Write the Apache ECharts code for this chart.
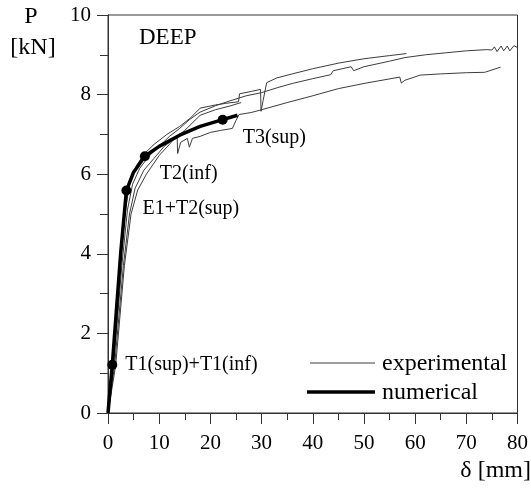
<!DOCTYPE html>
<html>
<head>
<meta charset="utf-8">
<script src="https://cdn.jsdelivr.net/npm/echarts@6/dist/echarts.min.js"></script>
<style>html,body{margin:0;padding:0;background:#fff}#c{width:531px;height:495px}</style>
</head>
<body>
<div id="c"></div>
<script>
// ---- data (δ [mm], P [kN]) ----
var xTicks = [0, 10, 20, 30, 40, 50, 60, 70, 80];
var yTicks = [0, 2, 4, 6, 8, 10];

var expA = [[0,0],[0.9,1.2],[2.4,3.7],[3.3,5.0],[4.2,5.75],[5.5,6.2],[7,6.5],[9,6.75],[11.5,7.0],[14,7.2],[16,7.4],[18,7.66],[21,7.74],[23,7.78],[25.5,7.82],[25.7,8.02],[28,8.08],[29.8,8.13],[29.9,7.58],[30.3,7.85],[31,8.3],[33,8.42],[36,8.52],[40,8.65],[45,8.79],[50,8.9],[55,8.98],[58.3,9.03]];
var expB = [[0,0],[1.1,1.2],[2.7,3.7],[3.8,5.1],[4.8,5.75],[6.2,6.15],[8,6.45],[10,6.7],[12,6.95],[14,7.15],[16,7.38],[18,7.56],[21,7.72],[24,7.85],[27,7.97],[30,8.05],[33,8.17],[36,8.28],[40,8.4],[43.5,8.5],[44,8.6],[47.5,8.7],[48,8.6],[50,8.7],[55,8.84],[58,8.93],[62,9.0],[66,9.05],[70,9.1],[74,9.13],[75,9.12],[75.5,9.2],[76,9.08],[76.8,9.22],[77.3,9.1],[78,9.22],[78.5,9.1],[79.3,9.23],[80,9.18]];
var expC = [[0,0],[1.5,1.2],[3.2,3.7],[4.5,5.0],[5.8,5.6],[7.5,6.0],[10,6.47],[12,6.75],[13.5,6.98],[13.6,6.52],[14.2,6.8],[15.5,6.9],[15.9,6.68],[16.5,6.9],[18,6.95],[20,7.05],[22,7.1],[24.3,7.15],[25,7.35],[25.6,7.5],[28,7.55],[30,7.62],[35,7.8],[40,7.97],[45,8.15],[50,8.28],[57,8.44],[57.3,8.29],[58,8.36],[61,8.49],[65,8.52],[70,8.55],[73.6,8.56],[76.7,8.69]];
var expD = [[0,0],[1.3,1.2],[3,3.7],[4.2,5.0],[5.3,5.65],[7,6.1],[9,6.4],[11,6.7],[13,6.9],[15,7.1],[18,7.48],[21,7.62],[24,7.72],[26,7.8]];
var numerical = [[0,0],[0.84,1.21],[2.5,4.05],[3.6,5.59],[5,6.05],[7.2,6.45],[10,6.7],[14,6.98],[18,7.2],[22.4,7.37],[25.3,7.48]];
var markerPts = [[0.84,1.21],[3.6,5.59],[7.2,6.45],[22.4,7.37]];
var markerLabels = ['T1(sup)+T1(inf)', 'E1+T2(sup)', 'T2(inf)', 'T3(sup)'];
var labelOffsets = [[3,0],[6,18],[5,17],[10,18]];

var FONT = '"Liberation Serif", "Times New Roman", serif';
var INK = '#000';

var chart = echarts.init(document.getElementById('c'), null, {renderer: 'canvas'});

function expSeries(d) {
  return {type: 'line', data: d, showSymbol: false, symbol: 'none', silent: true,
    lineStyle: {color: '#3c3c3c', width: 1}, z: 2, animation: false};
}

var option = {
  animation: false,
  grid: {left: 108, right: 11, top: 15, bottom: 82, show: true, borderColor: '#333', borderWidth: 1, backgroundColor: 'transparent'},
  xAxis: {
    type: 'value', min: 0, max: 80, interval: 10,
    axisLine: {show: true, onZero: false, lineStyle: {color: '#333', width: 1}},
    axisTick: {show: true, length: 11, lineStyle: {color: '#333'}},
    minorTick: {show: true, splitNumber: 2, length: 7, lineStyle: {color: '#333'}},
    splitLine: {show: false},
    axisLabel: {margin: 20, fontFamily: FONT, fontSize: 21, color: INK,
      formatter: function (v) { return xTicks.indexOf(v) >= 0 ? String(v) : ''; }}
  },
  yAxis: {
    type: 'value', min: 0, max: 10, interval: 2,
    axisLine: {show: true, onZero: false, lineStyle: {color: '#333', width: 1}},
    axisTick: {show: true, length: 11, lineStyle: {color: '#333'}},
    minorTick: {show: true, splitNumber: 2, length: 8, lineStyle: {color: '#333'}},
    splitLine: {show: false},
    axisLabel: {margin: 17, fontFamily: FONT, fontSize: 21, color: INK,
      formatter: function (v) { return yTicks.indexOf(v) >= 0 ? String(v) : ''; }}
  },
  series: [
    expSeries(expA), expSeries(expB), expSeries(expC), expSeries(expD),
    {type: 'line', data: numerical, showSymbol: false, symbol: 'none', silent: true,
      lineStyle: {color: '#000', width: 3.5}, z: 5},
    {type: 'scatter', data: markerPts.map(function (p, i) {
        return {value: p, label: {show: true, position: 'right', offset: labelOffsets[i],
          formatter: markerLabels[i], fontFamily: FONT, fontSize: 20, color: INK,
          textBorderWidth: 0, opacity: 1}};
      }),
      symbol: 'circle', symbolSize: 10, itemStyle: {color: '#000', opacity: 1}, z: 6, silent: true}
  ],
  graphic: [
    {type: 'text', left: 139, top: 26, style: {text: 'DEEP', font: '23px ' + FONT, fill: INK}},
    {type: 'text', x: 31, y: 17, style: {text: 'P', font: '24px ' + FONT, fill: INK, textAlign: 'center', textVerticalAlign: 'middle'}},
    {type: 'text', x: 33, y: 48, style: {text: '[kN]', font: '24px ' + FONT, fill: INK, textAlign: 'center', textVerticalAlign: 'middle'}},
    {type: 'text', x: 531, y: 471, style: {text: 'δ [mm]', font: '24px ' + FONT, fill: INK, textAlign: 'right', textVerticalAlign: 'middle'}},
    {type: 'line', shape: {x1: 310, y1: 363, x2: 375, y2: 363}, style: {stroke: '#3c3c3c', lineWidth: 1}},
    {type: 'text', x: 382, y: 364, style: {text: 'experimental', font: '24px ' + FONT, fill: INK, textVerticalAlign: 'middle'}},
    {type: 'line', shape: {x1: 307, y1: 392, x2: 375, y2: 392}, style: {stroke: '#000', lineWidth: 3.5}},
    {type: 'text', x: 382, y: 393, style: {text: 'numerical', font: '24px ' + FONT, fill: INK, textVerticalAlign: 'middle'}}
  ]
};
chart.setOption(option);
</script>
</body>
</html>
